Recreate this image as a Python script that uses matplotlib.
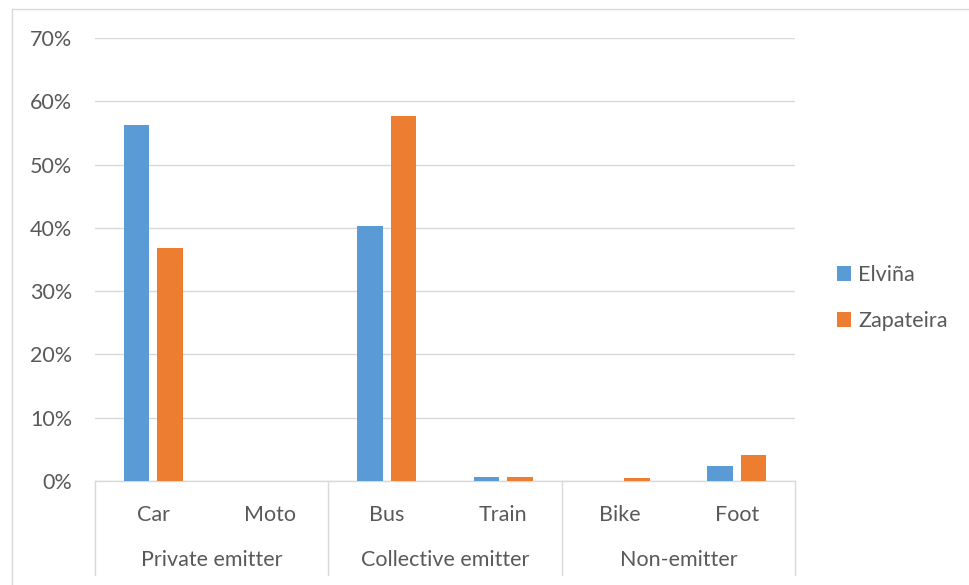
import matplotlib
matplotlib.use("Agg")
import matplotlib.pyplot as plt
import matplotlib.transforms as mtransforms
from matplotlib.patches import Rectangle
import numpy as np

plt.rcParams['font.family'] = ['Lato', 'DejaVu Sans']

modes = ["Car", "Moto", "Bus", "Train", "Bike", "Foot"]
groups = ["Private emitter", "Collective emitter", "Non-emitter"]
group_sizes = [2, 2, 2]
series_names = ["Elviña", "Zapateira"]
elvina = [56.2, 0.0, 40.3, 0.6, 0.0, 2.3]
zapateira = [36.8, 0.0, 57.6, 0.6, 0.4, 4.1]
y_ticks = [0, 10, 20, 30, 40, 50, 60, 70]

colors = ["#5b9bd5", "#ed7d31"]
text_color = "#595959"
grid_color = "#d9d9d9"
fs = 15.5

fig = plt.figure(figsize=(9.69, 5.85), dpi=100)
ax = fig.add_axes([95 / 969, 1 - 481 / 585, 700 / 969, 443 / 585])

# outer chart border
fig.patches.append(Rectangle((12 / 969, -0.01), 1.0, 1 - 9 / 585 + 0.01,
                             transform=fig.transFigure, fill=False,
                             edgecolor="#d9d9d9", linewidth=1.0))

x = np.arange(len(modes))
w = 0.22
off = 0.145
ax.bar(x - off, elvina, width=w, color=colors[0], label=series_names[0], zorder=3)
ax.bar(x + off, zapateira, width=w, color=colors[1], label=series_names[1], zorder=3)

ax.set_xlim(-0.5, len(modes) - 0.5)
ax.set_ylim(0, 70)
ax.set_yticks(y_ticks)
ax.set_yticklabels([f"{v}%" for v in y_ticks], color=text_color, fontsize=fs)
ax.yaxis.grid(True, color=grid_color, linewidth=1.0, zorder=0)
ax.tick_params(axis="y", length=0, pad=16.5)
ax.tick_params(axis="x", length=0, pad=17)
ax.set_xticks(x)
ax.set_xticklabels(modes, color=text_color, fontsize=fs)
for s in ["top", "right", "left"]:
    ax.spines[s].set_visible(False)
ax.spines["bottom"].set_color(grid_color)
ax.spines["bottom"].set_linewidth(1.0)

# group separators and labels below the category axis
trans = mtransforms.blended_transform_factory(ax.transData, ax.transAxes)
bottom_y = -(575 - 481) / 443
bounds = np.concatenate([[0], np.cumsum(group_sizes)]) - 0.5
for b in bounds:
    ax.plot([b, b], [0, bottom_y], transform=trans, color=grid_color,
            linewidth=1.0, clip_on=False)
label_y = -(560 - 481) / 443
for g, lo, hi in zip(groups, bounds[:-1], bounds[1:]):
    ax.text((lo + hi) / 2, label_y, g, transform=trans, ha="center",
            va="center", color=text_color, fontsize=fs)

leg = ax.legend(loc="center left", bbox_to_anchor=(1.032, 0.413), frameon=False,
                fontsize=fs, handlelength=0.65, handleheight=0.65,
                handletextpad=0.35, labelspacing=1.2)
for t in leg.get_texts():
    t.set_color(text_color)

fig.savefig("out.png", dpi=100)
